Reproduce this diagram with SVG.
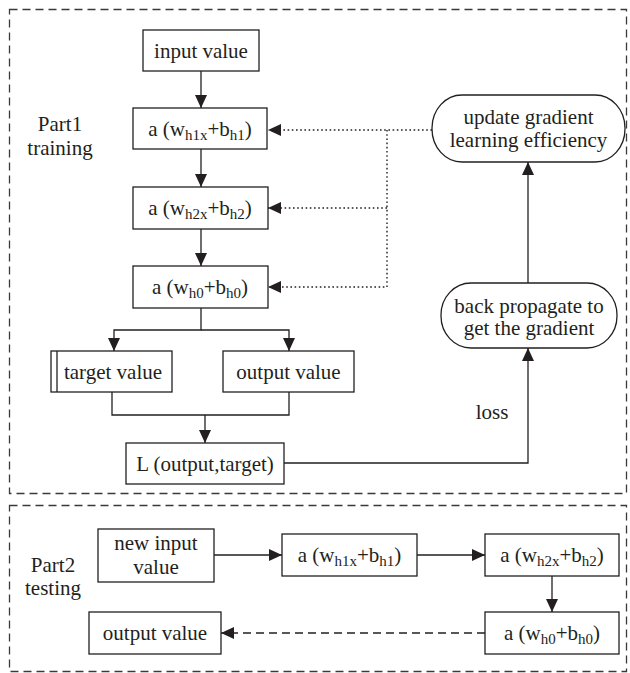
<svg xmlns="http://www.w3.org/2000/svg" width="630" height="673" viewBox="0 0 630 673">
<style>
  text { font-family: "Liberation Serif", "Times New Roman", serif; font-size: 21px; fill: #231f20; text-anchor: middle; }
  .box { fill: #fff; stroke: #231f20; stroke-width: 1.3; }
  .frame { fill: none; stroke: #3a3a3a; stroke-width: 1.3; stroke-dasharray: 8 5; }
  .line { fill: none; stroke: #231f20; stroke-width: 1.3; }
  .dot { fill: none; stroke: #231f20; stroke-width: 1.4; stroke-dasharray: 1.6 2.6; }
  .dash { fill: none; stroke: #231f20; stroke-width: 1.3; stroke-dasharray: 8 5; }
  .sub { font-size: 15px; }
</style>
<defs>
  <marker id="ah" markerUnits="userSpaceOnUse" markerWidth="13" markerHeight="12" refX="13" refY="6" orient="auto">
    <path d="M0,0 L13,6 L0,12 z" fill="#231f20"/>
  </marker>
</defs>

<rect class="frame" x="9.5" y="9.5" width="617" height="484"/>
<rect class="frame" x="9.5" y="505.5" width="617" height="166"/>

<g id="label-part1">
  <text x="60" y="131">Part1</text>
  <text x="60" y="155">training</text>
</g>
<g id="label-part2">
  <text x="53" y="572">Part2</text>
  <text x="53" y="595">testing</text>
</g>

<g id="connectors">
  <line class="line" x1="201" y1="71" x2="201" y2="108" marker-end="url(#ah)"/>
  <line class="line" x1="201" y1="149" x2="201" y2="187" marker-end="url(#ah)"/>
  <line class="line" x1="201" y1="229" x2="201" y2="266" marker-end="url(#ah)"/>
  <polyline class="line" points="201,308 201,330 114,330 114,351" marker-end="url(#ah)"/>
  <polyline class="line" points="201,330 289,330 289,351" marker-end="url(#ah)"/>
  <polyline class="line" points="112,392 112,415 289,415 289,392"/>
  <line class="line" x1="205" y1="415" x2="205" y2="443" marker-end="url(#ah)"/>
  <polyline class="line" points="284,463 528,463 528,348" marker-end="url(#ah)"/>
  <line class="line" x1="528" y1="283" x2="528" y2="162" marker-end="url(#ah)"/>
  <line class="dot" x1="432" y1="130" x2="268" y2="130" marker-end="url(#ah)"/>
  <polyline class="dot" points="387,130 387,287 268,287" marker-end="url(#ah)"/>
  <line class="dot" x1="387" y1="208" x2="268" y2="208" marker-end="url(#ah)"/>
  <text x="492" y="419">loss</text>
  <line class="line" x1="214" y1="555" x2="282" y2="555" marker-end="url(#ah)"/>
  <line class="line" x1="417" y1="555" x2="485" y2="555" marker-end="url(#ah)"/>
  <line class="line" x1="552" y1="576" x2="552" y2="612" marker-end="url(#ah)"/>
  <line class="dash" x1="485" y1="633" x2="221" y2="633" marker-end="url(#ah)"/>
</g>

<g id="input-value">
  <rect class="box" x="143" y="30" width="116" height="41"/>
  <text x="201" y="57.5">input value</text>
</g>
<g id="train-h1">
  <rect class="box" x="133" y="108" width="134" height="41"/>
  <text x="200" y="135.5">a (w<tspan class="sub" dy="4">h1x</tspan><tspan dy="-4">+b</tspan><tspan class="sub" dy="4">h1</tspan><tspan dy="-4">)</tspan></text>
</g>
<g id="train-h2">
  <rect class="box" x="133" y="187" width="135" height="42"/>
  <text x="200" y="215">a (w<tspan class="sub" dy="4">h2x</tspan><tspan dy="-4">+b</tspan><tspan class="sub" dy="4">h2</tspan><tspan dy="-4">)</tspan></text>
</g>
<g id="train-h0">
  <rect class="box" x="133" y="266" width="135" height="42"/>
  <text x="200" y="294">a (w<tspan class="sub" dy="4">h0</tspan><tspan dy="-4">+b</tspan><tspan class="sub" dy="4">h0</tspan><tspan dy="-4">)</tspan></text>
</g>
<g id="target-value">
  <rect class="box" x="51" y="351" width="121" height="41"/>
  <line class="line" x1="57" y1="351" x2="57" y2="392"/>
  <text x="113" y="378.5">target value</text>
</g>
<g id="output-value">
  <rect class="box" x="223" y="351" width="131" height="41"/>
  <text x="288.5" y="378.5">output value</text>
</g>
<g id="loss-fn">
  <rect class="box" x="126" y="443" width="158" height="41"/>
  <text x="205" y="470.5">L (output,target)</text>
</g>
<g id="update-gradient">
  <rect class="box" x="432" y="95" width="193" height="67" rx="30" ry="33"/>
  <text x="528.5" y="124">update gradient</text>
  <text x="528.5" y="147">learning efficiency</text>
</g>
<g id="back-propagate">
  <rect class="box" x="441" y="283" width="176" height="65" rx="30" ry="32"/>
  <text x="529" y="313">back propagate to</text>
  <text x="529" y="335">get the gradient</text>
</g>

<g id="new-input">
  <rect class="box" x="98" y="529" width="116" height="53"/>
  <text x="156" y="550">new input</text>
  <text x="156" y="574">value</text>
</g>
<g id="test-h1">
  <rect class="box" x="282" y="534" width="135" height="42"/>
  <text x="349.5" y="562">a (w<tspan class="sub" dy="4">h1x</tspan><tspan dy="-4">+b</tspan><tspan class="sub" dy="4">h1</tspan><tspan dy="-4">)</tspan></text>
</g>
<g id="test-h2">
  <rect class="box" x="485" y="534" width="134" height="42"/>
  <text x="552" y="562">a (w<tspan class="sub" dy="4">h2x</tspan><tspan dy="-4">+b</tspan><tspan class="sub" dy="4">h2</tspan><tspan dy="-4">)</tspan></text>
</g>
<g id="test-h0">
  <rect class="box" x="485" y="612" width="134" height="42"/>
  <text x="552" y="640">a (w<tspan class="sub" dy="4">h0</tspan><tspan dy="-4">+b</tspan><tspan class="sub" dy="4">h0</tspan><tspan dy="-4">)</tspan></text>
</g>
<g id="test-output">
  <rect class="box" x="89" y="612" width="132" height="42"/>
  <text x="155" y="640">output value</text>
</g>
</svg>
